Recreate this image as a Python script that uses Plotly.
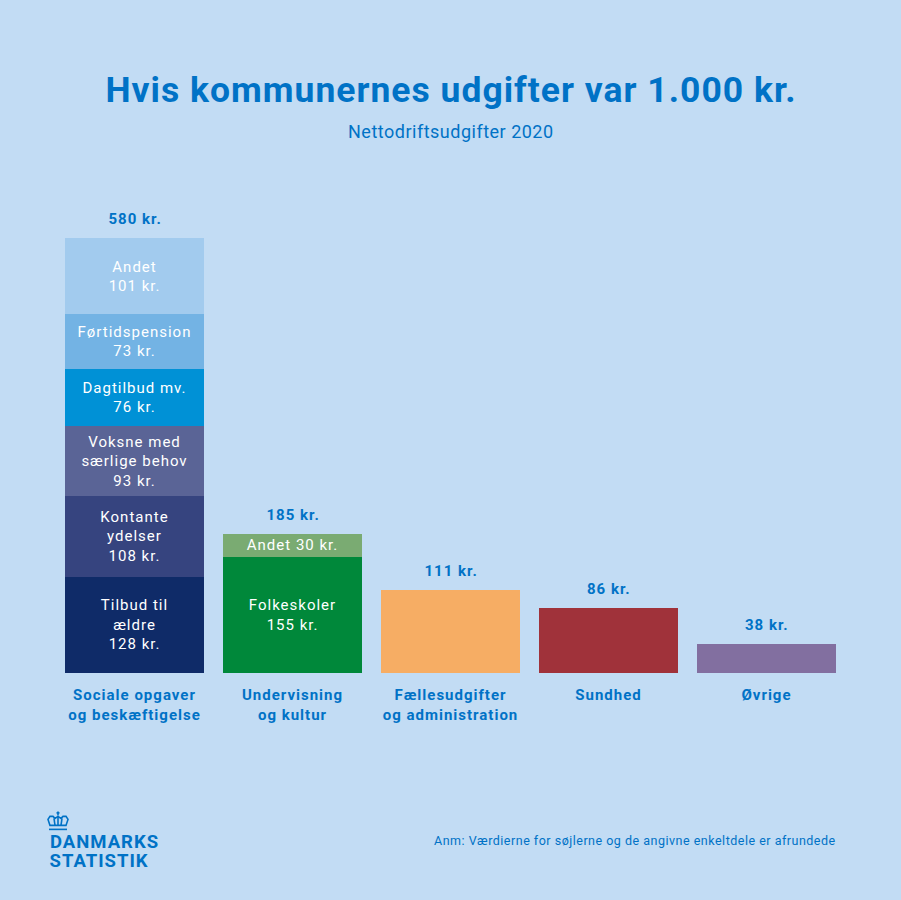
import re
import plotly.graph_objects as go

categories = ["Sociale opgaver<br>og beskæftigelse", "Undervisning<br>og kultur",
              "Fællesudgifter<br>og administration", "Sundhed", "Øvrige"]
totals = [580, 185, 111, 86, 38]

# stacked segments, bottom to top
social_labels = ["Tilbud til<br>ældre<br>128 kr.", "Kontante<br>ydelser<br>108 kr.",
                 "Voksne med<br>særlige behov<br>93 kr.", "Dagtilbud mv.<br>76 kr.",
                 "Førtidspension<br>73 kr.", "Andet<br>101 kr."]
social_values = [128, 108, 93, 76, 73, 101]
social_colors = ["#0F2B68", "#36447F", "#5A6496", "#0091D6", "#73B3E4", "#A2CBEE"]

school_labels = ["Folkeskoler<br>155 kr.", "Andet 30 kr."]
school_values = [155, 30]
school_colors = ["#00883A", "#7AAB72"]

single_values = [111, 86, 38]
single_colors = ["#F6AD64", "#A0323A", "#826FA0"]

BG = "#C2DCF4"
BLUE = "#0072C6"
FONT = "Roboto"
BASE_Y = 673.5  # bottom of the plot area in page pixels


def px_x(x):
    return x / 901


def px_y(y):
    return (BASE_Y - y) / BASE_Y


def spaced(text, spacing):
    return f'<span style="letter-spacing:{spacing}px">{text}</span>'


fig = go.Figure()

for label, value, color in zip(social_labels, social_values, social_colors):
    fig.add_trace(go.Bar(x=[categories[0]], y=[value], text=[label], marker_color=color))
for label, value, color in zip(school_labels, school_values, school_colors):
    fig.add_trace(go.Bar(x=[categories[1]], y=[value], text=[label], marker_color=color))
for cat, value, color in zip(categories[2:], single_values, single_colors):
    fig.add_trace(go.Bar(x=[cat], y=[value], marker_color=color))

fig.update_traces(
    width=0.88,
    marker_line_width=0,
    textposition="inside",
    insidetextanchor="middle",
    textangle=0,
    constraintext="none",
    insidetextfont=dict(family=FONT, size=15, color="white"),
    hoverinfo="skip",
)

# totals above the columns
for cat, total in zip(categories, totals):
    fig.add_annotation(x=cat, y=total, text=f"<b>{total} kr.</b>", showarrow=False,
                       yanchor="bottom", yshift=8,
                       font=dict(family=FONT, size=15, color=BLUE))

fig.add_annotation(x=0.5, y=px_y(90), xref="paper", yref="paper", yanchor="middle",
                   text="<b>Hvis kommunernes udgifter var 1.000 kr.</b>",
                   showarrow=False, font=dict(family=FONT, size=35.5, color=BLUE))
fig.add_annotation(x=0.5, y=px_y(132), xref="paper", yref="paper", yanchor="middle",
                   text=spaced("Nettodriftsudgifter 2020", 0.5),
                   showarrow=False, font=dict(family=FONT, size=18, color=BLUE))
fig.add_annotation(x=px_x(838), y=px_y(841), xref="paper", yref="paper", xanchor="right", yanchor="middle",
                   text=spaced("Anm: Værdierne for søjlerne og de angivne enkeltdele er afrundede", 0.5),
                   showarrow=False, font=dict(family=FONT, size=12.5, color=BLUE))
fig.add_annotation(x=px_x(51.5), y=px_y(843), xref="paper", yref="paper", xanchor="left", yanchor="middle",
                   text="<b>DANMARKS</b>", showarrow=False,
                   font=dict(family=FONT, size=18.5, color=BLUE))
fig.add_annotation(x=px_x(51.5), y=px_y(862), xref="paper", yref="paper", xanchor="left", yanchor="middle",
                   text="<b>STATISTIK</b>", showarrow=False,
                   font=dict(family=FONT, size=18.5, color=BLUE))

# crown of the logo, page pixels
crown_paths = [
    "M 50 826 L 48 820 L 50 817 L 53 817 L 55 819 L 58 817 L 61 819 L 63 817 L 66 817 L 68 820 L 66 826 Z",
    "M 58 817 L 58 826",
    "M 54 819 L 55 826",
    "M 62 819 L 61 826",
    "M 58 812 L 58 816",
    "M 56.5 813.5 L 59.5 813.5",
    "M 49 830 L 67 830",
]


def to_paper(path):
    return re.sub(r"([\d.]+) ([\d.]+)",
                  lambda m: f"{px_x(float(m[1])):.5f},{px_y(float(m[2])):.5f}", path)


for path in crown_paths:
    fig.add_shape(type="path", path=to_paper(path), xref="paper", yref="paper",
                  line=dict(color=BLUE, width=1.6))

fig.update_layout(
    width=901,
    height=900,
    barmode="stack",
    showlegend=False,
    paper_bgcolor=BG,
    plot_bgcolor=BG,
    margin=dict(l=0, r=0, t=0, b=900 - BASE_Y),
    xaxis=dict(
        type="category",
        range=[-134.5 / 158, (901 - 134.5) / 158],
        showgrid=False,
        zeroline=False,
        showline=False,
        ticks="outside",
        ticklen=8,
        tickcolor="rgba(0,0,0,0)",
        tickfont=dict(family=FONT, size=15, color=BLUE),
        ticktext=["<b>" + c.replace("<br>", "</b><br><b>") + "</b>" for c in categories],
        tickvals=categories,
        tickangle=0,
    ),
    yaxis=dict(range=[0, BASE_Y / 0.751], visible=False),
)

# reference type is wider than Roboto, so add tracking
post = """
document.body.style.margin = '0';
var css = document.createElement('style');
css.textContent = 'svg text {letter-spacing: 1px;}';
document.head.appendChild(css);
Plotly.redraw('{plot_id}');
"""
fig.write_html("out.html", post_script=post, config={"displayModeBar": False})
